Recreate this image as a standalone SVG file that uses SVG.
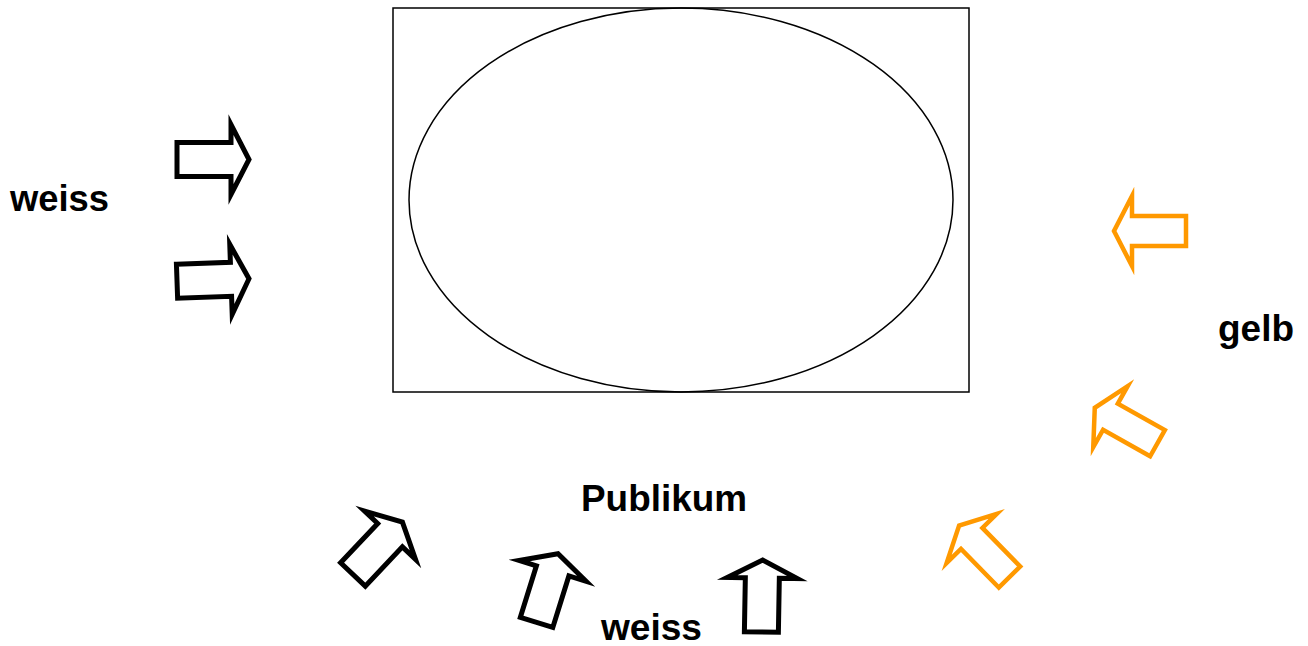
<svg xmlns="http://www.w3.org/2000/svg" width="1308" height="646" viewBox="0 0 1308 646">
<defs>
<style>
.blk{fill:#fff;stroke:#000;stroke-width:5;stroke-linejoin:miter;stroke-miterlimit:10}
.org{fill:#fff;stroke:#ff9900;stroke-width:4.5;stroke-linejoin:miter;stroke-miterlimit:10}
.lbl{font-family:"Liberation Sans",Arial,sans-serif;font-weight:bold;font-size:36px;fill:#000}
</style>
<path id="arr" d="M -35,-17 L 19,-17 L 19,-35 L 37,0 L 19,35 L 19,17 L -35,17 Z"/>
<path id="arrO" d="M -35,-15 L 19,-15 L 19,-35 L 37,0 L 19,35 L 19,15 L -35,15 Z"/>
</defs>
<rect width="1308" height="646" fill="#fff"/>
<g id="stage">
<rect x="393" y="8" width="576" height="384" fill="none" stroke="#000" stroke-width="1.5"/>
<ellipse cx="681" cy="200" rx="272" ry="192" fill="none" stroke="#000" stroke-width="1.5"/>
</g>
<g id="connectors">
<use href="#arr" class="blk" transform="translate(212,159.5)"/>
<use href="#arr" class="blk" transform="translate(212,280) rotate(-2)"/>
<use href="#arr" class="blk" transform="translate(377,549) rotate(-46.6)"/>
<use href="#arr" class="blk" transform="translate(547,589) rotate(-72.7)"/>
<use href="#arr" class="blk" transform="translate(762,597) rotate(-89)"/>
<use href="#arrO" class="org" transform="translate(1151,231) rotate(180)"/>
<use href="#arrO" class="org" transform="translate(1127,426) rotate(-150.6)"/>
<use href="#arrO" class="org" transform="translate(985,552) rotate(-134.4)"/>
</g>
<g id="labels">
<text class="lbl" x="10" y="211" textLength="99" lengthAdjust="spacingAndGlyphs">weiss</text>
<text class="lbl" x="581" y="511" textLength="166" lengthAdjust="spacingAndGlyphs">Publikum</text>
<text class="lbl" x="601" y="640" textLength="101" lengthAdjust="spacingAndGlyphs">weiss</text>
<text class="lbl" x="1218" y="341" textLength="76" lengthAdjust="spacingAndGlyphs">gelb</text>
</g>
</svg>
